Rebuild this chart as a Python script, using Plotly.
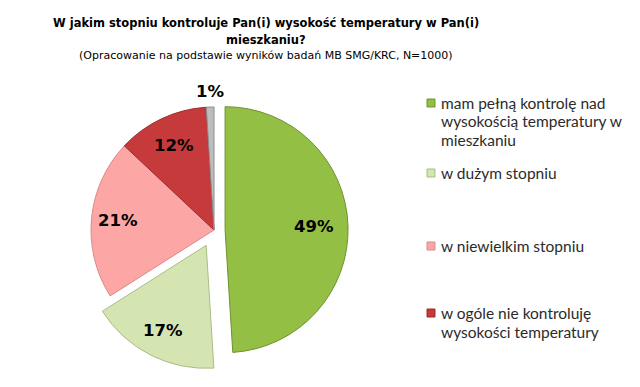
import math
import plotly.graph_objects as go

categories = ["mam pełną kontrolę nad wysokością temperatury w mieszkaniu",
              "w dużym stopniu", "w niewielkim stopniu",
              "w ogóle nie kontroluję wysokości temperatury", "inne"]
values = [49, 17, 21, 12, 1]
legend_lines = [["mam pełną kontrolę nad", "wysokością temperatury w", "mieszkaniu"],
                ["w dużym stopniu"], ["w niewielkim stopniu"],
                ["w ogóle nie kontroluję", "wysokości temperatury"]]
title_lines = ["<b>W jakim stopniu kontroluje Pan(i) wysokość temperatury w Pan(i)</b>",
               "<b>mieszkaniu?</b>",
               "(Opracowanie na podstawie wyników badań MB SMG/KRC, N=1000)"]
colors = ["#94bf45", "#d5e5b1", "#fca6a6", "#c73a3b", "#bdbdbd"]
line_colors = ["#6f9130", "#a9bd85", "#d98a8a", "#9b2a2b", "#8c8c8c"]
pulls = [0.09, 0.14, 0, 0, 0]
label_radius = [0.72, 0.78, 0.78, 0.76, 1.13]

W, H = 640, 387
cx, cy, r = 206, 222, 123
half = r * (1 + max(pulls))

fig = go.Figure()
fig.add_trace(go.Pie(
    labels=categories, values=values, sort=False, direction="clockwise",
    rotation=0, pull=pulls,
    marker=dict(colors=colors, line=dict(color=line_colors, width=1)),
    textinfo="none",
    showlegend=False, hoverinfo="label+percent",
    domain=dict(x=[(cx - half) / W, (cx + half) / W],
                y=[1 - (cy + half) / H, 1 - (cy - half) / H]),
))

annotations = []
for i, (t, yy) in enumerate(zip(title_lines, [15, 31.5, 47])):
    annotations.append(dict(text=t, x=258 / W, y=1 - yy / H, xref="paper", yref="paper",
                            xanchor="center", yanchor="middle", showarrow=False,
                            font=dict(family="DejaVu Sans", size=11.5 if i < 2 else 11, color="black")))

# percentage labels placed at slice mid-angles derived from the values
total = sum(values)
cum = 0
for v, p, lr in zip(values, pulls, label_radius):
    mid = (cum + v / 2) / total * 2 * math.pi
    cum += v
    dx, dy = math.sin(mid), -math.cos(mid)
    px = cx + dx * r * (p + lr)
    py = cy + dy * r * (p + lr)
    annotations.append(dict(text=f"<b>{round(v / total * 100)}%</b>", x=px / W, y=1 - py / H,
                            xref="paper", yref="paper", xanchor="center", yanchor="middle",
                            showarrow=False,
                            font=dict(family="DejaVu Sans", size=16.5, color="black")))

legend_y = [95, 165, 238, 305]
shapes = []
for lines, yy, col, lc in zip(legend_lines, legend_y, colors, line_colors):
    for k, ln in enumerate(lines):
        annotations.append(dict(text=ln, x=431 / W, y=1 - (yy + 18.5 * k) / H,
                                xref="paper", yref="paper", xanchor="left", yanchor="middle",
                                showarrow=False, align="left",
                                font=dict(family="Lato", size=15.5, color="#2b2b2b")))
    shapes.append(dict(type="rect", xref="paper", yref="paper",
                       x0=419 / W, x1=427 / W, y0=1 - (yy + 4) / H, y1=1 - (yy - 4) / H,
                       fillcolor=col, line=dict(color=lc, width=1)))

fig.update_layout(width=W, height=H, margin=dict(l=0, r=0, t=0, b=0),
                  paper_bgcolor="white", plot_bgcolor="white",
                  annotations=annotations, shapes=shapes)
fig.write_html("out.html")
